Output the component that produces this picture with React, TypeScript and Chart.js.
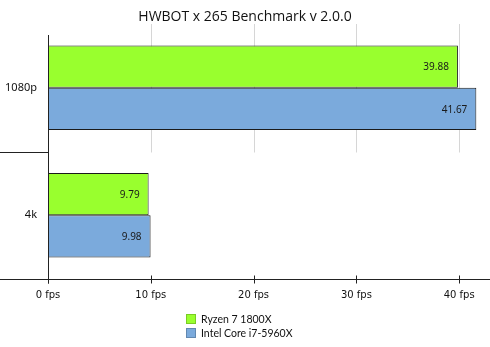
import React, { useEffect, useRef } from "react";
import { Chart, registerables } from "chart.js";

Chart.register(...registerables);

const TITLE = "HWBOT x 265 Benchmark v 2.0.0";
const categories = ["1080p", "4k"];
const seriesNames = ["Ryzen 7 1800X", "Intel Core i7-5960X"];
const ryzenValues = [39.88, 9.79];
const intelValues = [41.67, 9.98];
const seriesColors = ["#99ff2e", "#7baadc"];
const xTickValues = [0, 10, 20, 30, 40];
const xMax = 43;

const decorPlugin = {
  id: "decor",
  beforeDatasetsDraw(chart: any) {
    const { ctx, chartArea, scales } = chart;
    const x = scales.x;
    const y = scales.y;
    const sepY = Math.round(y.getPixelForValue(0.5)) + 0.5;
    ctx.save();
    ctx.strokeStyle = "#d6d6d6";
    ctx.lineWidth = 1;
    xTickValues.forEach((v) => {
      if (v === 0) return;
      const px = Math.round(x.getPixelForValue(v)) + 0.5;
      ctx.beginPath();
      ctx.moveTo(px, chartArea.top);
      ctx.lineTo(px, sepY);
      ctx.stroke();
    });
    ctx.restore();
  },
  afterDraw(chart: any) {
    const { ctx, chartArea, scales } = chart;
    const x = scales.x;
    const y = scales.y;
    ctx.save();
    ctx.strokeStyle = "#222222";
    ctx.lineWidth = 1;
    const sepY = Math.round(y.getPixelForValue(0.5)) + 0.5;
    const by = Math.round(chartArea.bottom) + 0.5;
    const lx = Math.round(chartArea.left) + 0.5;
    const rightEdge = chartArea.right;
    ctx.beginPath();
    ctx.moveTo(0, sepY);
    ctx.lineTo(lx, sepY);
    ctx.moveTo(0, by);
    ctx.lineTo(rightEdge, by);
    ctx.moveTo(lx, chartArea.top + 11);
    ctx.lineTo(lx, by + 4);
    xTickValues.forEach((v) => {
      const px = Math.round(x.getPixelForValue(v)) + 0.5;
      ctx.moveTo(px, by - 4);
      ctx.lineTo(px, by + 4);
    });
    ctx.stroke();
    // value labels
    ctx.fillStyle = "#1a1a1a";
    ctx.font = "10px 'Noto Sans'";
    ctx.textAlign = "right";
    ctx.textBaseline = "middle";
    chart.data.datasets.forEach((ds: any, i: number) => {
      const meta = chart.getDatasetMeta(i);
      meta.data.forEach((el: any, j: number) => {
        ctx.fillText(ds.data[j].toFixed(2), el.x - 9, el.y + 1);
      });
    });
    // legend
    const lgX = 186;
    let lgY = 319;
    ctx.font = "10.5px Lato";
    ctx.textAlign = "left";
    chart.data.datasets.forEach((ds: any) => {
      ctx.fillStyle = ds.backgroundColor;
      ctx.fillRect(lgX, lgY - 5, 10, 10);
      ctx.strokeStyle = "rgba(0,0,0,0.2)";
      ctx.strokeRect(lgX + 0.5, lgY - 4.5, 9, 9);
      ctx.fillStyle = "#111";
      ctx.fillText(ds.label, lgX + 15, lgY + 0.5);
      lgY += 14;
    });
    ctx.restore();
  },
};

export default function App() {
  const ref = useRef<HTMLCanvasElement | null>(null);
  useEffect(() => {
    if (!ref.current) return;
    const chart = new Chart(ref.current, {
      type: "bar",
      data: {
        labels: categories,
        datasets: [
          {
            label: seriesNames[0],
            data: ryzenValues,
            backgroundColor: seriesColors[0],
            borderColor: "#1a1a1a",
            borderWidth: 1,
            categoryPercentage: 0.664,
            barPercentage: 1,
          },
          {
            label: seriesNames[1],
            data: intelValues,
            backgroundColor: seriesColors[1],
            borderColor: "#1a1a1a",
            borderWidth: 1,
            categoryPercentage: 0.664,
            barPercentage: 1,
          },
        ],
      },
      options: {
        indexAxis: "y",
        animation: false,
        responsive: false,
        layout: { padding: { top: 0, right: 0, bottom: 38, left: 0 } },
        plugins: {
          legend: { display: false },
          tooltip: { enabled: false },
          title: {
            display: true,
            text: TITLE,
            color: "#111",
            font: { family: "'Open Sans'", size: 14, weight: "normal", lineHeight: 1 },
            padding: { top: 10, bottom: 0 },
          },
        },
        scales: {
          x: {
            min: 0,
            max: xMax,
            afterBuildTicks: (s: any) => {
              s.ticks = xTickValues.map((v) => ({ value: v }));
            },
            afterFit: (s: any) => {
              s.height = 30;
            },
            grid: { display: false, drawTicks: true, tickLength: 8 },
            border: { display: false },
            ticks: {
              color: "#111",
              font: { family: "'DejaVu Sans'", size: 10 },
              padding: 2,
              maxRotation: 0,
              callback: (v: any) => `${v} fps`,
            },
          },
          y: {
            afterFit: (s: any) => {
              s.width = 48;
            },
            grid: { display: false, drawTicks: false },
            border: { display: false },
            ticks: {
              color: "#111",
              font: { family: "'Noto Sans'", size: 11 },
              padding: 11,
            },
          },
        },
      },
      plugins: [decorPlugin],
    });
    return () => chart.destroy();
  }, []);
  return (
    <div style={{ position: "fixed", left: 0, top: 0, width: 490, height: 347, background: "#fff" }}>
      <canvas ref={ref} width={490} height={347} style={{ display: "block" }} />
    </div>
  );
}
